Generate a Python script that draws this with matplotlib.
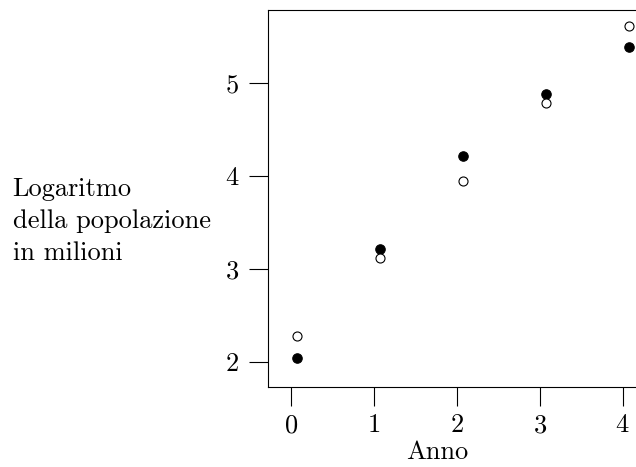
import matplotlib
matplotlib.use('Agg')
import matplotlib.pyplot as plt

# data
anno = [0.08, 1.08, 2.08, 3.08, 4.08]
pieni = [2.04, 3.22, 4.22, 4.88, 5.39]
vuoti = [2.28, 3.12, 3.95, 4.79, 5.61]

plt.rcParams['font.family'] = ['cmr10', 'DejaVu Serif']
plt.rcParams['axes.formatter.use_mathtext'] = True
plt.rcParams['font.size'] = 19

W, H = 636, 467
fig = plt.figure(figsize=(W / 100, H / 100), dpi=100)

# axes box in pixels: left 267.5, bottom 387.3, top 10; runs past the right edge
left, right, top, bottom = 267.5, 647.6, 10, 387.3
ax = fig.add_axes([left / W, 1 - bottom / H, (right - left) / W, (bottom - top) / H])

ax.plot(anno, pieni, 'o', color='black', markersize=6.8, markeredgewidth=0.8)
ax.plot(anno, vuoti, 'o', markerfacecolor='white', markeredgecolor='black',
        markersize=6.5, markeredgewidth=0.8)

ax.set_xlim(-0.28, 4.30)
ax.set_ylim(1.728, 5.785)
ax.set_xticks([0, 1, 2, 3, 4])
ax.set_yticks([2, 3, 4, 5])

for s in ax.spines.values():
    s.set_linewidth(0.8)
ax.tick_params(direction='out', length=14, width=0.8, pad=5)
ax.tick_params(axis='y', pad=6.5)

ax.set_xlabel('Anno')
ax.xaxis.set_label_coords((437 - left) / (right - left), -(452 - bottom) / (bottom - top))
ax.xaxis.label.set_va('center')

fig.text(12.7 / W, 1 - 221 / H, 'Logaritmo\ndella popolazione\nin milioni',
         ha='left', va='center', multialignment='left', linespacing=1.45)

fig.savefig('out.png', dpi=100)
